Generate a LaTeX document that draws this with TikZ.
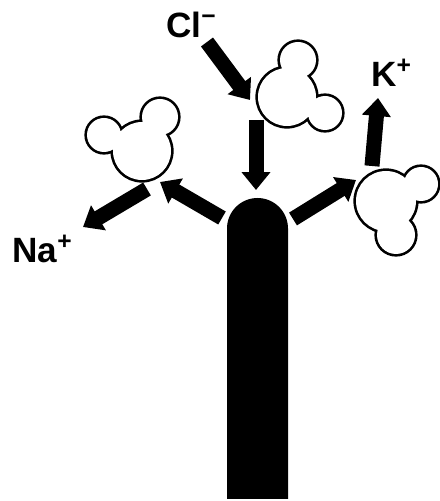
\documentclass[tikz,border=0pt]{standalone}
\usepackage{fontspec}
\setmainfont{Liberation Sans}
\usetikzlibrary{arrows.meta}
\tikzset{blockarrow/.style={line width=0.3cm,-{Triangle[length=0.36cm,width=0.56cm]}}  }
\tikzset{molrim/.style={draw=black,line width=3pt}  }
\tikzset{ion/.style={inner sep=0pt,anchor=base west,font=\fontsize{20}{23}\selectfont\bfseries}  }

\begin{document}
\begin{tikzpicture}[x=0.02cm,y=0.02cm]
	\useasboundingbox (0,0) rectangle (440,501);

	% water molecules: rim first, then white fill over it
	\draw[molrim] (142,350) circle (29) (104,366) circle (17) (160,384) circle (18);
	\fill[white]  (142,350) circle (29) (104,366) circle (17) (160,384) circle (18);
	\draw[molrim] (287,404) circle (29) (298,441) circle (18) (325,388) circle (17);
	\fill[white]  (287,404) circle (29) (298,441) circle (18) (325,388) circle (17);
	\draw[molrim] (386,300) circle (30) (421,317) circle (17) (396,266) circle (19);
	\fill[white]  (386,300) circle (30) (421,317) circle (17) (396,266) circle (19);

	% channel
	\fill[black] (227,2) -- (227,272.5) arc (180:0:30.5) -- (288,2) -- cycle;

	% ions
	\node[ion] (cl) at (166,463) {Cl\textsuperscript{\textminus}};
	\node[ion] (na) at (12,238) {Na\textsuperscript{+}};
	\node[ion] (k) at (371,414) {K\textsuperscript{+}};

	\coordinate (a1) at (207,459); \coordinate (b1) at (250,401);
	\coordinate (a2) at (256,381); \coordinate (b2) at (256,311);
	\coordinate (a3) at (147,312); \coordinate (b3) at (83,274);
	\coordinate (a4) at (222,283); \coordinate (b4) at (160,319);
	\coordinate (a5) at (293,282); \coordinate (b5) at (356,321);
	\coordinate (a6) at (372,335); \coordinate (b6) at (378,403);

	\foreach \i in {1,...,6}
		\draw[blockarrow] (a\i) -- (b\i);
\end{tikzpicture}
\end{document}
